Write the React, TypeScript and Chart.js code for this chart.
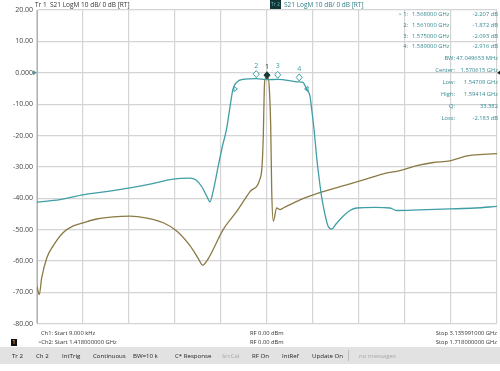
import React, { useEffect, useRef } from "react";
import { Chart, registerables } from "chart.js";

Chart.register(...registerables);

// Ch1 (brown trace): 9 kHz .. 3.135991 GHz
const ch1Start = 0.000009;
const ch1Stop = 3.135991;
const ch1Freq = [
  0.000009, 0.0157, 0.032, 0.0661, 0.1111, 0.1793, 0.2475, 0.3156, 0.407, 0.5202,
  0.634, 0.7479, 0.861, 0.9524, 1.0431, 1.0997, 1.1297, 1.1678, 1.2701, 1.3614,
  1.4521, 1.5203, 1.5339, 1.5428, 1.5496, 1.5564, 1.5769, 1.585, 1.5932, 1.6,
  1.611, 1.6341, 1.6566, 1.6791, 1.793, 1.9068, 2.02, 2.1338, 2.2477, 2.3609,
  2.4747, 2.5886, 2.7017, 2.8156, 2.9294, 3.0426, 3.135991,
];
const ch1Db = [
  -68.1, -70.7, -65.4, -59.1, -55.1, -50.9, -48.8, -47.8, -46.6, -45.9,
  -45.7, -46.3, -47.8, -50.4, -55.1, -59.2, -61.3, -59.2, -49.9, -44.2,
  -37.9, -33.8, -30.0, -20.0, -5.0, -1.6, -1.8, -6.0, -16.7, -37.3,
  -47.3, -43.1, -43.6, -43.1, -40.5, -38.5, -36.9, -35.4, -33.8, -32.2,
  -31.2, -29.6, -28.6, -28.1, -26.5, -26.0, -25.8,
];

// Ch2 (teal trace): 1.418 .. 1.718 GHz
const ch2Start = 1.418;
const ch2Stop = 1.718;
const ch2Freq = [
  1.418, 1.433, 1.448, 1.463, 1.4787, 1.4917, 1.5067, 1.5178, 1.5217, 1.5256,
  1.5289, 1.5308, 1.5328, 1.536, 1.5387, 1.5417, 1.5439, 1.5458, 1.5482, 1.5523,
  1.561, 1.568, 1.575, 1.589, 1.5914, 1.5938, 1.596, 1.5971, 1.5986, 1.6004,
  1.6019, 1.6036, 1.6058, 1.6078, 1.6102, 1.613, 1.6176, 1.6221, 1.6265, 1.6384,
  1.6482, 1.6525, 1.6677, 1.6873, 1.7036, 1.718,
];
const ch2Db = [
  -41.2, -40.4, -38.9, -37.9, -36.7, -35.5, -33.9, -33.6, -34.2, -36.4,
  -39.5, -41.1, -37.9, -30.2, -23.9, -17.7, -10.8, -5.2, -3.05, -2.1,
  -1.872, -2.207, -2.093, -2.916, -3.05, -5.2, -7.4, -11.5, -17.7, -27.0,
  -33.3, -39.5, -45.1, -48.8, -49.8, -48.2, -45.7, -43.9, -43.1, -42.9,
  -43.1, -43.9, -43.7, -43.4, -43.1, -42.6,
];

const markerIds = ["1", "2", "3", "4"];
const markerFreq = [1.568, 1.561, 1.575, 1.589];
const markerDb = [-2.207, -1.872, -2.093, -2.916];
const bwFreq = [1.54709, 1.59414];
const bwDb = -5.183;

const yTicks = [20, 10, 0, -10, -20, -30, -40, -50, -60, -70, -80];

const markerLines = [
  ["> 1:", "1.568000 GHz", "-2.207 dB"],
  ["2:", "1.561000 GHz", "-1.872 dB"],
  ["3:", "1.575000 GHz", "-2.093 dB"],
  ["4:", "1.589000 GHz", "-2.916 dB"],
];
const statsLines = [
  ["BW:", "47.049653 MHz"],
  ["Center:", "1.570615 GHz"],
  ["Low:", "1.54709 GHz"],
  ["High:", "1.59414 GHz"],
  ["Q:", "33.382"],
  ["Loss:", "-2.183 dB"],
];
const statusItems = [
  ["Tr 2", 12, false], ["Ch 2", 36, false], ["IntTrig", 62, false], ["Continuous", 93, false],
  ["BW=10 k", 133, false], ["C* Response", 175, false], ["SrcCal", 222, true], ["RF On", 252, false],
  ["IntRef", 282, false], ["Update On", 312, false], ["no messages", 359, true],
];

const TEAL = "#3f9ea6";
const BROWN = "#8c7a45";
const FONT = "'Open Sans', 'Noto Sans', sans-serif";

const markerPlugin = {
  id: "vnaMarkers",
  afterDatasetsDraw(chart: any) {
    const { ctx, scales } = chart;
    const xs = scales.x2;
    const ys = scales.y;
    ctx.save();
    ctx.font = `7px ${FONT}`;
    ctx.textAlign = "center";
    ctx.textBaseline = "middle";
    ctx.lineWidth = 1;
    for (let i = markerFreq.length - 1; i >= 0; i--) {
      const px = xs.getPixelForValue(markerFreq[i]);
      const py = ys.getPixelForValue(markerDb[i]);
      const cy = py - 4.5;
      ctx.beginPath();
      ctx.moveTo(px, cy + 3.5);
      ctx.lineTo(px + 3, cy);
      ctx.lineTo(px, cy - 3.5);
      ctx.lineTo(px - 3, cy);
      ctx.closePath();
      if (i === 0) {
        ctx.fillStyle = "#17393a";
        ctx.fill();
        ctx.strokeStyle = "#17393a";
      } else {
        ctx.fillStyle = "#ffffff";
        ctx.fill();
        ctx.strokeStyle = TEAL;
      }
      ctx.stroke();
      ctx.fillStyle = i === 0 ? "#333" : TEAL;
      ctx.fillText(markerIds[i], px, py - 13);
    }
    // bandwidth triangles
    ctx.strokeStyle = TEAL;
    bwFreq.forEach((f, k) => {
      const px = xs.getPixelForValue(f);
      const py = ys.getPixelForValue(bwDb);
      ctx.beginPath();
      if (k === 0) {
        ctx.moveTo(px - 1, py - 2.5);
        ctx.lineTo(px + 2.5, py);
        ctx.lineTo(px - 1, py + 2.5);
      } else {
        ctx.moveTo(px + 1, py - 2.5);
        ctx.lineTo(px - 2.5, py);
        ctx.lineTo(px + 1, py + 2.5);
      }
      ctx.closePath();
      ctx.stroke();
    });
    // reference level arrows
    const ry = ys.getPixelForValue(0);
    const L = chart.chartArea.left;
    const R = chart.chartArea.right;
    ctx.fillStyle = TEAL;
    ctx.beginPath();
    ctx.moveTo(L - 4, ry - 2.5);
    ctx.lineTo(L, ry);
    ctx.lineTo(L - 4, ry + 2.5);
    ctx.closePath();
    ctx.fill();
    ctx.fillStyle = "#222";
    ctx.beginPath();
    ctx.moveTo(R + 3, ry - 2);
    ctx.lineTo(R, ry);
    ctx.lineTo(R + 3, ry + 2);
    ctx.closePath();
    ctx.fill();
    ctx.restore();
  },
};

function T(props: any) {
  const { x, y, align, color, size, weight, children } = props;
  const style: any = {
    position: "absolute",
    top: y,
    transform: "translateY(-50%)",
    lineHeight: 1,
    whiteSpace: "nowrap",
    fontFamily: FONT,
    fontSize: size || 6,
    fontWeight: weight || 400,
    color: color || "#333",
  };
  if (align === "right") style.right = 500 - x;
  else style.left = x;
  return <span style={style}>{children}</span>;
}

export default function App() {
  const ref = useRef<HTMLCanvasElement | null>(null);

  useEffect(() => {
    if (!ref.current) return;
    const brown = ch1Freq.map((f, i) => ({ x: f, y: ch1Db[i] }));
    const teal = ch2Freq.map((f, i) => ({ x: f, y: ch2Db[i] }));
    const chart = new Chart(ref.current, {
      type: "line",
      data: {
        datasets: [
          {
            label: "Tr 2 S21",
            data: teal,
            xAxisID: "x2",
            yAxisID: "y",
            borderColor: TEAL,
            borderWidth: 1.3,
            pointRadius: 0,
            cubicInterpolationMode: "monotone",
          },
          {
            label: "Tr 1 S21",
            data: brown,
            xAxisID: "x",
            yAxisID: "y",
            borderColor: BROWN,
            borderWidth: 1.3,
            pointRadius: 0,
            cubicInterpolationMode: "monotone",
          },
        ],
      },
      options: {
        animation: false,
        responsive: false,
        devicePixelRatio: 1,
        layout: { padding: { top: 10, right: 3, bottom: 2, left: 0 } },
        plugins: { legend: { display: false }, tooltip: { enabled: false } },
        scales: {
          x: {
            type: "linear",
            min: ch1Start,
            max: ch1Stop,
            afterBuildTicks: (s: any) => {
              s.ticks = Array.from({ length: 11 }, (_, i) => ({
                value: ch1Start + (i * (ch1Stop - ch1Start)) / 10,
              }));
            },
            afterFit: (s: any) => {
              s.height = 0;
            },
            ticks: { display: false },
            grid: { color: "#d4d4d4", lineWidth: 1.2, drawTicks: false },
            border: { color: "#d4d4d4" },
          },
          x2: {
            type: "linear",
            min: ch2Start,
            max: ch2Stop,
            display: false,
          },
          y: {
            type: "linear",
            min: -80,
            max: 20,
            afterBuildTicks: (s: any) => {
              s.ticks = yTicks.map((v) => ({ value: v }));
            },
            afterFit: (s: any) => {
              s.width = 37;
            },
            ticks: {
              padding: 4,
              color: "#444",
              font: { size: 7, family: "'Open Sans', 'Noto Sans', sans-serif" },
              callback: (v: any) => (v === 0 ? "0.000" : Number(v).toFixed(2)),
            },
            grid: { color: "#d4d4d4", lineWidth: 1.2, drawTicks: false },
            border: { color: "#b0b0b0" },
          },
        },
      },
      plugins: [markerPlugin],
    } as any);
    return () => chart.destroy();
  }, []);

  const tableColor = "#358a91";

  return (
    <div
      style={{
        position: "absolute",
        left: 0,
        top: 0,
        width: 500,
        height: 371,
        background: "#ffffff",
        overflow: "hidden",
      }}
    >
      <canvas
        ref={ref}
        width={500}
        height={332}
        style={{ position: "absolute", left: 0, top: 0, width: 500, height: 332 }}
      />
      {/* headers */}
      <T x={35} y={5} color="#333" size={6.5}>Tr 1</T>
      <T x={50} y={5} color="#333" size={6.5}>S21 LogM 10 dB/ 0 dB [RT]</T>
      <div
        style={{
          position: "absolute",
          left: 270,
          top: 0,
          width: 11,
          height: 9,
          background: "#123435",
          color: "#6fb8bd",
          fontFamily: FONT,
          fontSize: 5,
          lineHeight: "9px",
          textAlign: "center",
        }}
      >
        Tr 2
      </div>
      <T x={284} y={5} color="#2f7f86" size={6.5}>S21 LogM 10 dB/ 0 dB [RT]</T>
      {/* marker table */}
      {markerLines.map((l, i) => {
        const y = [15, 26, 36.5, 47][i];
        return (
          <React.Fragment key={"m" + i}>
            <T x={408} y={y} align="right" color={tableColor} size={5.8}>{l[0]}</T>
            <T x={412} y={y} color={tableColor} size={5.8}>{l[1]}</T>
            <T x={498} y={y} align="right" color={tableColor} size={5.8}>{l[2]}</T>
          </React.Fragment>
        );
      })}
      {statsLines.map((l, i) => {
        const y = 58.5 + i * 12;
        return (
          <React.Fragment key={"s" + i}>
            <T x={455} y={y} align="right" color={tableColor} size={5.8}>{l[0]}</T>
            <T x={498} y={y} align="right" color={tableColor} size={5.8}>{l[1]}</T>
          </React.Fragment>
        );
      })}
      {/* footer */}
      <T x={41} y={334} color="#333" size={5.8}>Ch1: Start 9.000 kHz</T>
      <T x={38} y={342.5} color="#333" size={5.8}>&gt;Ch2: Start 1.418000000 GHz</T>
      <T x={250} y={334} color="#333" size={5.8}>RF 0.00 dBm</T>
      <T x={250} y={342.5} color="#333" size={5.8}>RF 0.00 dBm</T>
      <T x={497} y={334} align="right" color="#333" size={5.8}>Stop 3.135991000 GHz</T>
      <T x={497} y={342.5} align="right" color="#333" size={5.8}>Stop 1.718000000 GHz</T>
      <div
        style={{
          position: "absolute",
          left: 11,
          top: 339,
          width: 6,
          height: 7,
          background: "#111",
          color: "#fff",
          fontFamily: FONT,
          fontSize: 5,
          lineHeight: "7px",
          textAlign: "center",
        }}
      >
        1
      </div>
      {/* status bar */}
      <div
        style={{
          position: "absolute",
          left: 0,
          top: 347,
          width: 500,
          height: 17,
          background: "#e2e2e2",
        }}
      />
      {statusItems.map((s, i) => (
        <T
          key={"st" + i}
          x={s[1] as number}
          y={356}
          color={s[2] ? "#a8a8a8" : "#222"}
          size={6.1}
        >
          {s[0] as string}
        </T>
      ))}
      <div
        style={{
          position: "absolute",
          left: 348,
          top: 350,
          width: 1,
          height: 11,
          background: "#bdbdbd",
        }}
      />
    </div>
  );
}
